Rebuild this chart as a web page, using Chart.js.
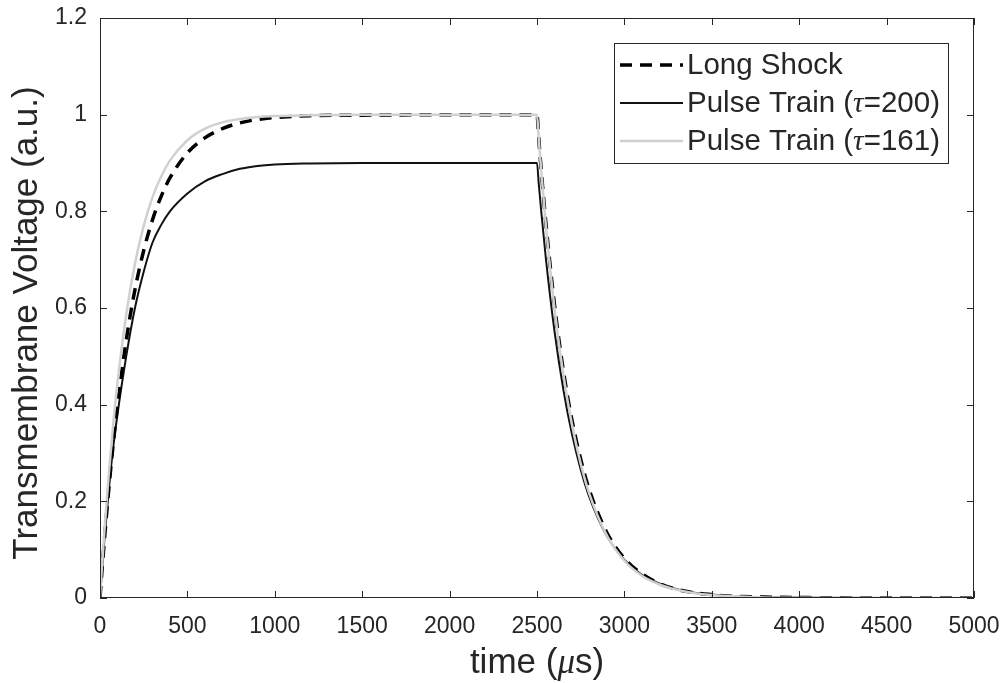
<!DOCTYPE html>
<html>
<head>
<meta charset="utf-8">
<script src="https://cdn.jsdelivr.net/npm/chart.js@4.4.1/dist/chart.umd.min.js"></script>
<style>
  html, body { margin: 0; padding: 0; background: #fff; }
  canvas { display: block; }
</style>
</head>
<body>
<canvas id="chart" width="1003" height="683"></canvas>
<script>
// values (time in µs, voltage in a.u.)
const timeUs = [0, 10, 25, 50, 75, 100, 150, 200, 250, 300, 350, 400, 500, 600, 700, 800, 900, 1000, 1200, 1500, 2000, 2500,
  2510, 2525, 2550, 2600, 2650, 2700, 2750, 2800, 2900, 3000, 3100, 3200, 3300, 3400, 3500, 3600, 3800, 4000, 4500, 5000];

const longShock = [0, 0.050, 0.119, 0.224, 0.317, 0.398, 0.533, 0.638, 0.719, 0.782, 0.831, 0.869, 0.921, 0.952, 0.971, 0.983, 0.990, 0.994, 0.998, 0.999, 1.0, 1.0,
  0.951, 0.882, 0.779, 0.607, 0.472, 0.368, 0.287, 0.223, 0.135, 0.082, 0.050, 0.030, 0.018, 0.011, 0.007, 0.004, 0.002, 0.001, 0, 0];

const pulseTrain200 = [0, 0.050, 0.120, 0.222, 0.310, 0.380, 0.500, 0.600, 0.675, 0.735, 0.772, 0.800, 0.837, 0.862, 0.877, 0.888, 0.894, 0.897, 0.899, 0.900, 0.900, 0.900,
  0.857, 0.797, 0.705, 0.552, 0.433, 0.339, 0.266, 0.208, 0.128, 0.079, 0.048, 0.030, 0.018, 0.011, 0.007, 0.004, 0.0015, 0.001, 0, 0];

const pulseTrain161 = [0, 0.057, 0.137, 0.255, 0.357, 0.445, 0.586, 0.692, 0.770, 0.829, 0.872, 0.905, 0.947, 0.971, 0.984, 0.991, 0.995, 0.997, 0.999, 1.0, 1.0, 1.0,
  0.950, 0.880, 0.774, 0.599, 0.464, 0.359, 0.278, 0.215, 0.129, 0.077, 0.046, 0.028, 0.017, 0.010, 0.006, 0.004, 0.001, 0.0005, 0, 0];

const xTickStep = 500;
const yTickStep = 0.2;

const AXIS = '#262626';
const SANS = '"Liberation Sans", Arial, Helvetica, sans-serif';
const SERIF = '"Liberation Serif", "DejaVu Serif", serif';

const toPoints = arr => timeUs.map((t, i) => ({ x: t, y: arr[i] }));

// box, inside ticks, axis titles and legend (MATLAB look)
const matlabFrame = {
  id: 'matlabFrame',
  afterDraw(chart) {
    const ctx = chart.ctx;
    const a = chart.chartArea;
    const xs = chart.scales.x, ys = chart.scales.y;
    const tl = 7;
    ctx.save();
    ctx.strokeStyle = AXIS;
    ctx.lineWidth = 1;
    ctx.strokeRect(a.left + 0.5, a.top + 0.5, a.right - a.left - 1, a.bottom - a.top - 1);
    ctx.beginPath();
    xs.ticks.forEach(t => {
      const px = Math.round(xs.getPixelForValue(t.value)) + 0.5;
      ctx.moveTo(px, a.bottom); ctx.lineTo(px, a.bottom - tl);
      ctx.moveTo(px, a.top); ctx.lineTo(px, a.top + tl);
    });
    ys.ticks.forEach(t => {
      const py = Math.round(ys.getPixelForValue(t.value)) + 0.5;
      ctx.moveTo(a.left, py); ctx.lineTo(a.left + tl, py);
      ctx.moveTo(a.right, py); ctx.lineTo(a.right - tl, py);
    });
    ctx.stroke();

    // x title: time (μs)
    ctx.fillStyle = AXIS;
    ctx.textBaseline = 'alphabetic';
    const parts = [
      { s: 'time (', f: '35px ' + SANS },
      { s: 'μ', f: 'italic 35px ' + SERIF },
      { s: 's)', f: '35px ' + SANS }
    ];
    let w = 0;
    parts.forEach(p => { ctx.font = p.f; w += ctx.measureText(p.s).width; });
    let x = (a.left + a.right) / 2 - w / 2;
    parts.forEach(p => { ctx.font = p.f; ctx.fillText(p.s, x, 673); x += ctx.measureText(p.s).width; });

    // y title
    ctx.save();
    ctx.translate(37, 323);
    ctx.rotate(-Math.PI / 2);
    ctx.font = '35px ' + SANS;
    ctx.textAlign = 'center';
    ctx.fillText('Transmembrane Voltage (a.u.)', 0, 0);
    ctx.restore();

    // legend
    const bx = 614, by = 43, bw = 334, bh = 120;
    ctx.fillStyle = '#fff';
    ctx.fillRect(bx, by, bw, bh);
    ctx.strokeStyle = AXIS;
    ctx.lineWidth = 1;
    ctx.strokeRect(bx + 0.5, by + 0.5, bw, bh);
    const rows = [65, 103, 141];
    chart.data.datasets.forEach((ds, i) => {
      const y = rows[i];
      ctx.beginPath();
      ctx.strokeStyle = ds.borderColor;
      ctx.lineWidth = ds.borderWidth;
      ctx.setLineDash(ds.borderDash || []);
      ctx.moveTo(620, y); ctx.lineTo(683, y);
      ctx.stroke();
      ctx.setLineDash([]);
      ctx.fillStyle = AXIS;
      ctx.textBaseline = 'middle';
      let tx = 687;
      ds.legendParts.forEach(p => {
        ctx.font = p.i ? 'italic 29.5px ' + SERIF : '29.5px ' + SANS;
        ctx.fillText(p.s, tx, y + 1);
        tx += ctx.measureText(p.s).width;
      });
    });
    ctx.restore();
  }
};

new Chart(document.getElementById('chart'), {
  type: 'line',
  data: {
    datasets: [
      {
        label: 'Long Shock',
        legendParts: [{ s: 'Long Shock' }],
        data: toPoints(longShock),
        borderColor: '#000000',
        borderWidth: 3.5,
        borderDash: [12, 8],
        order: 1
      },
      {
        label: 'Pulse Train (τ=200)',
        legendParts: [{ s: 'Pulse Train (' }, { s: 'τ', i: true }, { s: '=200)' }],
        data: toPoints(pulseTrain200),
        borderColor: '#111111',
        borderWidth: 2,
        order: 2
      },
      {
        label: 'Pulse Train (τ=161)',
        legendParts: [{ s: 'Pulse Train (' }, { s: 'τ', i: true }, { s: '=161)' }],
        data: toPoints(pulseTrain161),
        borderColor: '#d3cfcf',
        borderWidth: 2.5,
        order: 0
      }
    ]
  },
  options: {
    responsive: false,
    animation: false,
    devicePixelRatio: 1,
    elements: {
      point: { radius: 0 },
      line: { cubicInterpolationMode: 'monotone', fill: false }
    },
    layout: { padding: { top: 18, right: 29, left: 0, bottom: 0 } },
    plugins: {
      legend: { display: false },
      tooltip: { enabled: false }
    },
    scales: {
      x: {
        type: 'linear',
        min: 0,
        max: 5000,
        grid: { display: false, drawTicks: false },
        border: { display: false },
        ticks: {
          stepSize: xTickStep,
          color: AXIS,
          font: { family: SANS, size: 23 },
          padding: 15,
          maxRotation: 0,
          callback: v => String(v)
        },
        afterFit: s => { s.height = 85; s.paddingLeft = 0; s.paddingRight = 0; }
      },
      y: {
        min: 0,
        max: 1.2,
        grid: { display: false, drawTicks: false },
        border: { display: false },
        ticks: {
          stepSize: yTickStep,
          color: AXIS,
          font: { family: SANS, size: 23 },
          padding: 13,
          callback: v => String(+v.toFixed(1))
        },
        afterFit: s => { s.width = 100; s.paddingTop = 0; s.paddingBottom = 0; }
      }
    }
  },
  plugins: [matlabFrame]
});
</script>
</body>
</html>
